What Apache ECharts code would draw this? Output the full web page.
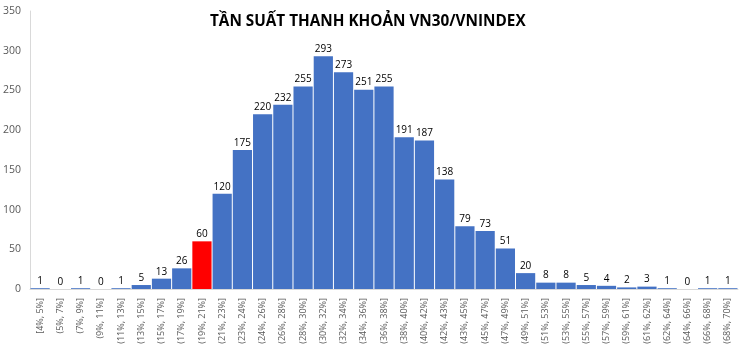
<!DOCTYPE html>
<html><head><meta charset="utf-8">
<script src="https://cdn.jsdelivr.net/npm/echarts@6/dist/echarts.min.js"></script>
<style>html,body{margin:0;padding:0;background:#fff}#c{width:747px;height:350px}</style>
</head><body><div id="c"></div>
<script>
const title = "TẦN SUẤT THANH KHOẢN VN30/VNINDEX";
const categories = ["[4%, 5%]","(5%, 7%]","(7%, 9%]","(9%, 11%]","(11%, 13%]","(13%, 15%]","(15%, 17%]","(17%, 19%]","(19%, 21%]","(21%, 23%]","(23%, 24%]","(24%, 26%]","(26%, 28%]","(28%, 30%]","(30%, 32%]","(32%, 34%]","(34%, 36%]","(36%, 38%]","(38%, 40%]","(40%, 42%]","(42%, 43%]","(43%, 45%]","(45%, 47%]","(47%, 49%]","(49%, 51%]","(51%, 53%]","(53%, 55%]","(55%, 57%]","(57%, 59%]","(59%, 61%]","(61%, 62%]","(62%, 64%]","(64%, 66%]","(66%, 68%]","(68%, 70%]"];
const counts = [1,0,1,0,1,5,13,26,60,120,175,220,232,255,293,273,251,255,191,187,138,79,73,51,20,8,8,5,4,2,3,1,0,1,1];
const highlightIndex = 8;
const chart = echarts.init(document.getElementById('c'));
chart.setOption({
  animation:false,
  title:{text:title,left:205,top:9,textStyle:{fontFamily:'Open Sans',fontWeight:'bold',fontSize:15.3,color:'#000'}},
  grid:{left:28,right:9,top:11,bottom:61,containLabel:false},
  xAxis:{type:'category',data:categories,
    axisLine:{lineStyle:{color:'#d9d9d9'}},axisTick:{show:false},
    axisLabel:{rotate:90,interval:0,fontSize:9,color:'#595959',fontFamily:'Open Sans',margin:9}},
  yAxis:{type:'value',min:0,max:350,interval:50,
    axisLine:{show:true,lineStyle:{color:'#d9d9d9'}},axisTick:{show:false},splitLine:{show:false},
    axisLabel:{fontSize:10.5,color:'#595959',fontFamily:'Open Sans',margin:9}},
  series:[{type:'bar',barCategoryGap:'5%',
    data:counts.map((v,i)=>({value:v,itemStyle:{color:i===highlightIndex?'#ff0000':'#4472c4'}})),
    label:{show:true,position:'top',fontSize:10,color:'#000',fontFamily:'Open Sans',distance:2}}]
});
</script></body></html>
